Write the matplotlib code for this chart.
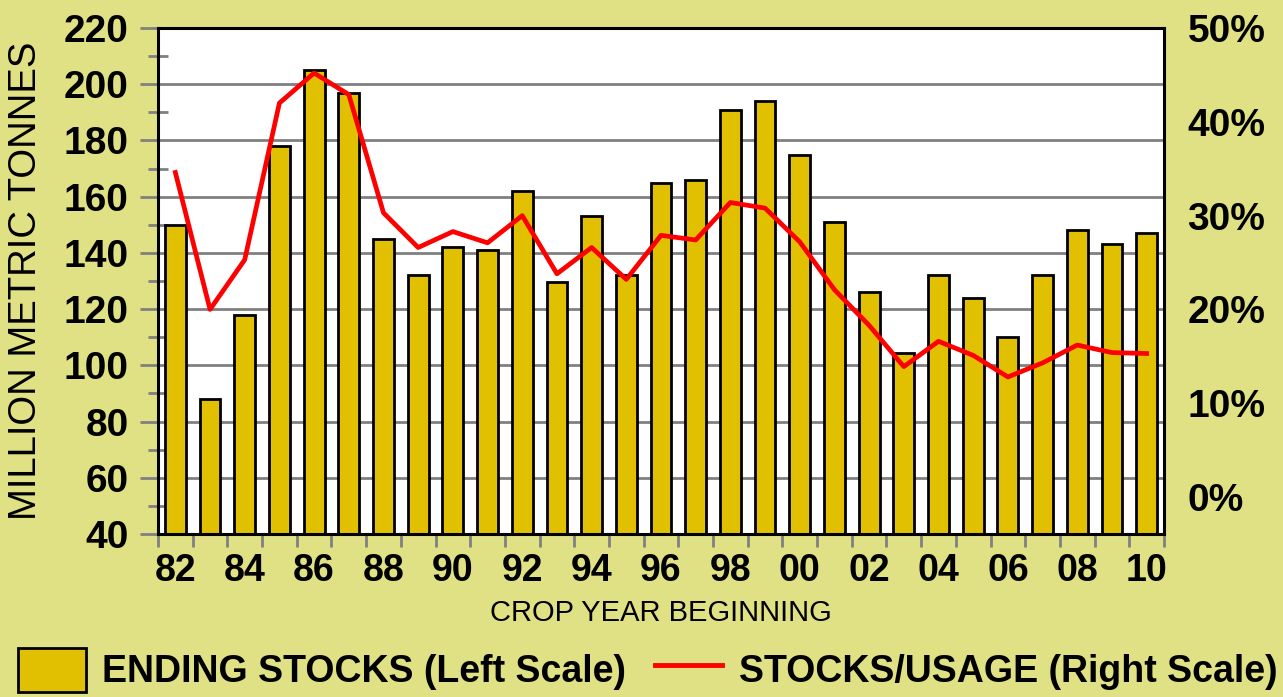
import numpy as np
import matplotlib.pyplot as plt
from matplotlib.patches import Patch
from matplotlib.lines import Line2D

plt.rcParams['font.family'] = ['Liberation Sans', 'DejaVu Sans']

# crop years 1982 - 2010
years = list(range(1982, 2011))
year_labels = ['82', '84', '86', '88', '90', '92', '94', '96', '98', '00', '02', '04', '06', '08', '10']
# ending stocks, million metric tonnes (left scale)
stocks = [150, 88, 118, 178, 205, 197, 145, 132, 142, 141, 162, 129.5, 153, 132, 165,
          166, 191, 194, 175, 151, 126, 104.5, 132, 124, 110, 132, 148, 143, 147]
# stocks/usage ratio, percent (right scale)
ratio = [34.6, 20.0, 25.3, 42.0, 45.2, 42.9, 30.3, 26.6, 28.3, 27.1, 30.0, 23.8, 26.6, 23.2, 27.9,
         27.4, 31.4, 30.8, 27.2, 22.1, 18.3, 13.9, 16.6, 15.1, 12.8, 14.3, 16.2, 15.4, 15.3]
pct_ticks = [0, 10, 20, 30, 40, 50]

bg = '#E0E084'
gold = '#E0C000'
grey = '#808080'

fig = plt.figure(figsize=(12.83, 6.97), dpi=100, facecolor=bg)
ax = fig.add_axes([158 / 1283, 1 - 534 / 697, 1006 / 1283, 506 / 697])
ax.set_facecolor('white')

x = np.arange(len(years))
ax.bar(x, stocks, width=0.6, color=gold, edgecolor='black', linewidth=2, zorder=2)
ax.set_xlim(-0.5, len(years) - 0.5)
ax.set_ylim(40, 220)

# gridlines and left scale
ax.set_yticks(np.arange(40, 221, 20))
ax.set_yticks(np.arange(50, 220, 20), minor=True)
ax.yaxis.grid(True, which='major', color=grey, linewidth=2)
ax.set_axisbelow(True)
ax.tick_params(axis='y', which='major', color=grey, length=13, width=2, pad=8,
               labelsize=28, labelcolor='black')
ax.tick_params(axis='y', which='minor', direction='inout', color=grey, length=15, width=2)
for t in ax.get_yticklabels():
    t.set_fontweight('bold')

# x ticks at bar boundaries, labels every other year
ax.set_xticks(np.arange(-0.5, len(years), 1))
ax.set_xticklabels([])
ax.set_xticks(x[::2], labels=year_labels, minor=True)
ax.tick_params(axis='x', which='major', color=grey, length=9, width=2)
ax.tick_params(axis='x', which='minor', length=0, pad=14, labelsize=27)
for t in ax.get_xticklabels(minor=True):
    t.set_fontweight('bold')

for s in ax.spines.values():
    s.set_color('black')
    s.set_linewidth(2.2)

ax.set_ylabel('MILLION METRIC TONNES', fontsize=27.5)
ax.yaxis.set_label_coords(-0.113, 0.5)
ax.set_xlabel('CROP YEAR BEGINNING', fontsize=21)
ax.xaxis.set_label_coords(0.5, -0.128)

# right scale: stocks/usage
ax2 = ax.twinx()
ax2.plot(x, ratio, color='red', linewidth=3.4, solid_joinstyle='round', zorder=3)
ax2.set_ylim(-3.94, 50)
ax2.set_yticks(pct_ticks, labels=[f'{p}%' for p in pct_ticks])
ax2.tick_params(axis='y', length=0, pad=17, labelsize=28)
for t in ax2.get_yticklabels():
    t.set_fontweight('bold')
for s in ax2.spines.values():
    s.set_visible(False)

handles = [Patch(facecolor=gold, edgecolor='black', linewidth=2),
           Line2D([], [], color='red', linewidth=3.5)]
fig.legend(handles, ['ENDING STOCKS (Left Scale)', 'STOCKS/USAGE (Right Scale)'],
           loc='center left', bbox_to_anchor=(18 / 1283, 1 - 670 / 697), ncol=2,
           frameon=False, borderpad=0, borderaxespad=0, handlelength=1.8, handleheight=1.45,
           handletextpad=0.45, columnspacing=0.75, prop={'size': 27, 'weight': 'bold'})

fig.savefig('out.png', dpi=100, facecolor=bg)
